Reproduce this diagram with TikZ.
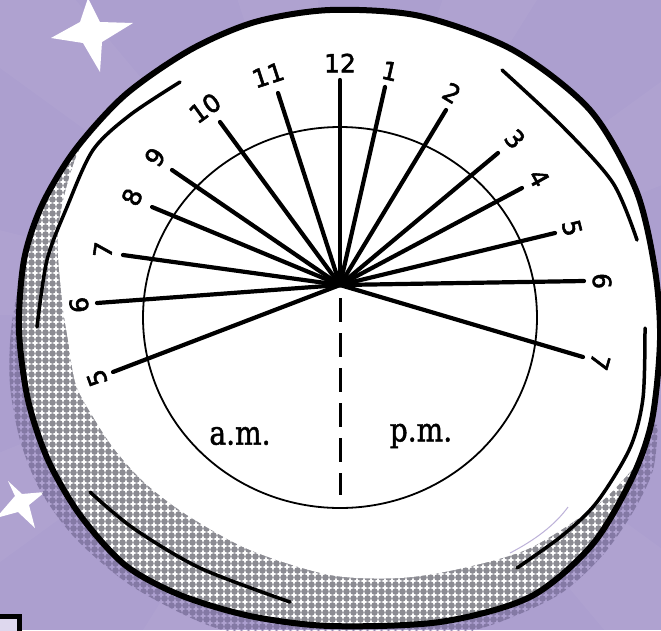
\documentclass[tikz,border=0pt]{standalone}
\usepackage{fontspec}
\setmainfont{DejaVu Sans}[FakeBold=2.2]
\newfontfamily\amfont{DejaVu Serif}[FakeBold=1.5]
\definecolor{bgpurple}{RGB}{172,159,207}
\definecolor{dotgray}{RGB}{140,140,147}
\definecolor{shadowdot}{RGB}{132,121,165}
\definecolor{boxfill}{RGB}{222,216,238}
\tikzset{
  hourline/.style={line width=4.2pt, line cap=round},
  rimarc/.style={line width=3.5pt, line cap=round},
  hourlabel/.style={font=\fontsize{25}{25}\selectfont, inner sep=0pt},
  halflabel/.style={font=\amfont\fontsize{33}{33}\selectfont, inner sep=0pt},
  starfill/.style={fill=white},
  dotrow/.style={line width=6.6pt, line cap=round, dash pattern=on 0pt off 7pt, draw=#1},
}
\def\plateshape{plot[smooth cycle] coordinates {(330,10) (420,16) (513,50) (590,110) (636,190) (655,270) (660,340) (652,420) (632,478) (592,545) (530,597) (440,622) (330,626) (250,616) (180,595) (125,565) (80,515) (48,460) (28,400) (19,330) (24,260) (42,205) (75,150) (125,95) (190,50) (255,22)}}
% halftone dots: each row is one dashed line with round caps
\newcommand{\halftonedots}[1]{%
  \foreach \j in {19,...,92} {\draw[dotrow=#1] (3.5,\j*7+3.5) -- (668,\j*7+3.5);}%
}
\begin{document}
\begin{tikzpicture}[x=1pt,y=-1pt]
\useasboundingbox (0,0) rectangle (661,630);
\fill[bgpurple] (0,0) rectangle (661,630);
% faint rays
\begin{scope}
\clip (0,0) rectangle (661,630);
\foreach \a in {0,36,...,324}
  \fill[white,opacity=0.04] (340,315) -- +(\a:900) -- +(\a+14:900) -- cycle;
\end{scope}
% stars
\fill[starfill] (88,-2) -- (80,22) -- (51,38) -- (83,43) -- (100,72) -- (102,42) -- (133,23) -- (100,22) -- cycle;
\fill[starfill] (8,481) -- (15,496) -- (-4,518) -- (18,512) -- (35,528) -- (29,505) -- (45,492) -- (22,494) -- cycle;
% bottom-left fragment
\draw[line width=5pt, fill=boxfill] (-6,616) rectangle (19,642);
% shadow (halftone outside the plate)
\begin{scope}
\clip plot[smooth] coordinates {(85,145) (60,172) (38,215) (22,270) (11,330) (10,385) (20,440) (40,490) (75,538) (130,585) (200,622) (270,645)}
  -- (440,645) --
  plot[smooth] coordinates {(440,640) (500,622) (560,594) (602,556) (633,512) (653,470) (658,425)}
  -- (500,400) -- (200,300) -- cycle;
\halftonedots{shadowdot}
\end{scope}
% plate
\path[fill=white] \plateshape;
\begin{scope}
\clip \plateshape;
\halftonedots{dotgray}
\fill[white] plot[smooth] coordinates {(110,90) (75,160) (58,230) (62,300) (68,340) (76,385) (95,420) (115,450) (145,483) (187,515) (250,550) (330,575) (400,578) (463,568) (530,548) (597,505) (630,472) (652,445) (675,420)}
  -- (700,420) -- (700,-30) -- (-30,-30) -- (-30,90) -- cycle;
\end{scope}
\draw[line width=6pt] \plateshape;
% inner rim arcs
\draw[rimarc] plot[smooth] coordinates {(180,82) (130,115) (93,150) (67,207) (47,260) (37,327)};
\draw[rimarc] plot[smooth] coordinates {(502,70) (563,127) (613,183) (637,240)};
\draw[rimarc] plot[smooth] coordinates {(645,328) (643,398) (630,448) (597,502) (563,535) (517,568)};
\draw[rimarc] plot[smooth] coordinates {(90,492) (133,528) (200,568) (290,602)};
\draw[line width=1pt, draw=bgpurple!80] (510,553) .. controls (535,540) and (555,525) .. (568,507);
% inner circle
\draw[line width=1.8pt] (340,317.5) ellipse [x radius=197, y radius=190.5];
% hour lines
\coordinate (C) at (340,285);
\coordinate (h12) at (340,80);
\coordinate (h1) at (385,87);
\coordinate (h2) at (446,110);
\coordinate (h3) at (498,153);
\coordinate (h4) at (522,188);
\coordinate (h5) at (555,233);
\coordinate (h6r) at (584,281);
\coordinate (h7r) at (583,357);
\coordinate (h11) at (278,93);
\coordinate (h10) at (220,122);
\coordinate (h9) at (172,170);
\coordinate (h8) at (152,207);
\coordinate (h7l) at (123,255);
\coordinate (h6l) at (97,303);
\coordinate (h5l) at (113,372);
\foreach \h in {h12,h1,h2,h3,h4,h5,h6r,h7r,h11,h10,h9,h8,h7l,h6l,h5l}
  \draw[hourline] (C) -- (\h);
\coordinate (D) at (340,298);
\coordinate (E) at (340,495);
\draw[line width=3pt, dash pattern=on 24pt off 11pt] (D) -- (E);
% labels
\node[hourlabel] (l12) at (340,63) {12};
\node[hourlabel, rotate=-13] (l1) at (390,71) {1};
\node[hourlabel, rotate=-31] (l2) at (452,93) {2};
\node[hourlabel, rotate=-50] (l3) at (515,139) {3};
\node[hourlabel, rotate=-61] (l4) at (539,178) {4};
\node[hourlabel, rotate=-76] (l5) at (572,228) {5};
\node[hourlabel, rotate=-89] (l6r) at (602,281) {6};
\node[hourlabel, rotate=-106] (l7r) at (600,362) {7};
\node[hourlabel, rotate=18] (l11) at (268,75) {11};
\node[hourlabel, rotate=36] (l10) at (205,108) {10};
\node[hourlabel, rotate=55] (l9) at (155,157) {9};
\node[hourlabel, rotate=67] (l8) at (132,197) {8};
\node[hourlabel, rotate=82] (l7l) at (103,250) {7};
\node[hourlabel, rotate=94] (l6l) at (79,305) {6};
\node[hourlabel, rotate=110] (l5l) at (97,378) {5};
\node[halflabel] (am) at (240,436) {\scalebox{0.85}[1]{a.m.}};
\node[halflabel] (pm) at (421,436) {\scalebox{0.85}[1]{p.m.}};
\end{tikzpicture}
\end{document}
